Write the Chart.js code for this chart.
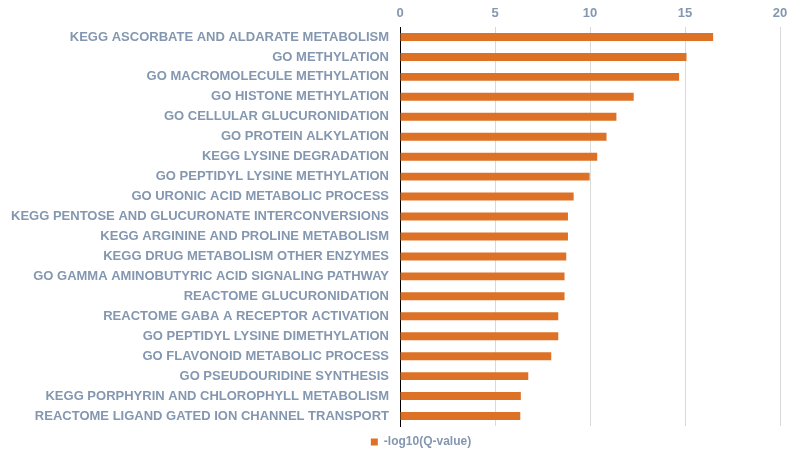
<!DOCTYPE html>
<html>
<head>
<meta charset="utf-8">
<script src="https://cdn.jsdelivr.net/npm/chart.js@4/dist/chart.umd.min.js"></script>
<style>
  html, body { margin: 0; padding: 0; background: #fff; }
  #wrap { width: 800px; height: 460px; position: relative; }
</style>
</head>
<body>
<div id="wrap"><canvas id="myChart"></canvas></div>
<script>
const terms = [
  'KEGG ASCORBATE AND ALDARATE METABOLISM',
  'GO METHYLATION',
  'GO MACROMOLECULE METHYLATION',
  'GO HISTONE METHYLATION',
  'GO CELLULAR GLUCURONIDATION',
  'GO PROTEIN ALKYLATION',
  'KEGG LYSINE DEGRADATION',
  'GO PEPTIDYL LYSINE METHYLATION',
  'GO URONIC ACID METABOLIC PROCESS',
  'KEGG PENTOSE AND GLUCURONATE INTERCONVERSIONS',
  'KEGG ARGININE AND PROLINE METABOLISM',
  'KEGG DRUG METABOLISM OTHER ENZYMES',
  'GO GAMMA AMINOBUTYRIC ACID SIGNALING PATHWAY',
  'REACTOME GLUCURONIDATION',
  'REACTOME GABA A RECEPTOR ACTIVATION',
  'GO PEPTIDYL LYSINE DIMETHYLATION',
  'GO FLAVONOID METABOLIC PROCESS',
  'GO PSEUDOURIDINE SYNTHESIS',
  'KEGG PORPHYRIN AND CHLOROPHYLL METABOLISM',
  'REACTOME LIGAND GATED ION CHANNEL TRANSPORT'
];
const qValues = [16.48, 15.08, 14.69, 12.3, 11.39, 10.87, 10.38, 9.98, 9.14, 8.84,
  8.84, 8.75, 8.66, 8.66, 8.33, 8.33, 7.96, 6.75, 6.36, 6.33];
const seriesName = '-log10(Q-value)';
const xTicks = [0, 5, 10, 15, 20];

const labelColor = '#8497B0';
const barColor = '#DD7226';
const boldFont = { family: 'Liberation Sans, Arial', size: 13, weight: 'bold' };

// the legend in the original sits a bit right of centre
const shiftLegend = {
  id: 'shiftLegend',
  afterLayout(chart) {
    chart.legend.left += 31;
    chart.legend.right += 31;
  }
};

const ctx = document.getElementById('myChart').getContext('2d');
const myChart = new Chart(ctx, {
  type: 'bar',
  data: {
    labels: terms,
    datasets: [{
      label: seriesName,
      data: qValues,
      backgroundColor: barColor,
      borderWidth: 0,
      barPercentage: 0.8,
      categoryPercentage: 0.5
    }]
  },
  options: {
    indexAxis: 'y',
    animation: false,
    maintainAspectRatio: false,
    responsive: true,
    layout: { padding: { left: 0, right: 20, top: 0, bottom: 2 } },
    plugins: {
      tooltip: { enabled: false },
      legend: {
        position: 'bottom',
        labels: {
          color: labelColor,
          boxWidth: 7,
          boxHeight: 7,
          padding: 10,
          font: { family: 'Liberation Sans, Arial', size: 12, weight: 'bold' }
        }
      }
    },
    scales: {
      x: {
        position: 'top',
        min: 0,
        max: 20,
        afterBuildTicks: (scale) => {
          scale.ticks = xTicks.map(v => ({ value: v }));
        },
        afterFit: (scale) => { scale.height = 27; },
        grid: {
          color: '#D9D9D9',
          drawTicks: false
        },
        border: { display: false },
        ticks: {
          color: labelColor,
          padding: 6,
          font: boldFont
        }
      },
      y: {
        afterFit: (scale) => { scale.width = 400; },
        grid: { display: false, drawTicks: false },
        border: { display: true, color: '#000000', width: 1 },
        ticks: {
          color: labelColor,
          padding: 11,
          autoSkip: false,
          font: boldFont
        }
      }
    }
  },
  plugins: [shiftLegend]
});
</script>
</body>
</html>
